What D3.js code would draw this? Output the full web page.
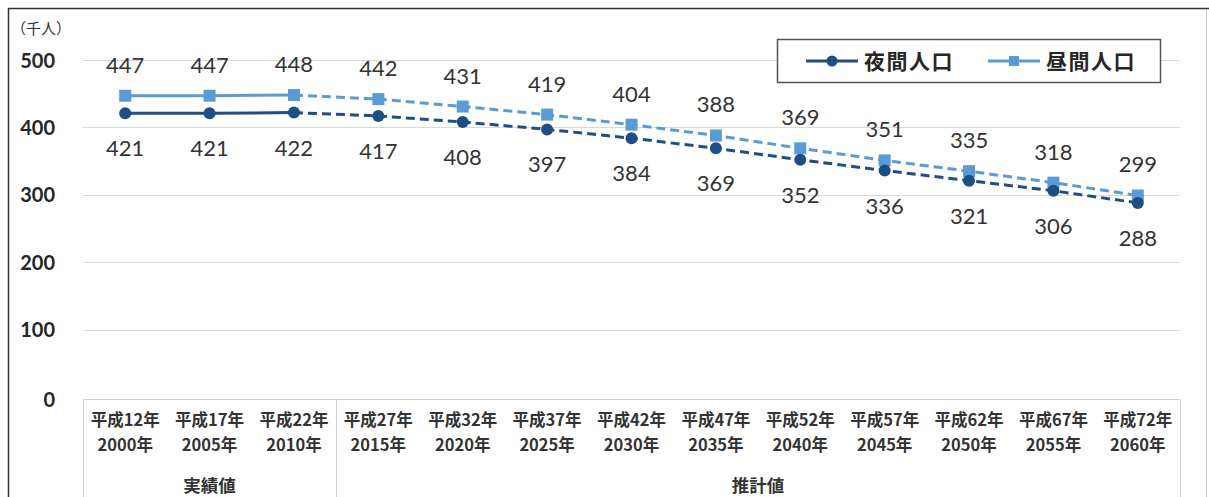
<!DOCTYPE html>
<html><head><meta charset="utf-8">
<script src="https://cdn.jsdelivr.net/npm/d3@7/dist/d3.min.js"></script>
<style>body{margin:0;background:#fff}svg{display:block}</style>
</head><body>
<svg id="c" width="1209" height="497"></svg>
<script>
const categoriesWareki = ["平成12年","平成17年","平成22年","平成27年","平成32年","平成37年","平成42年","平成47年","平成52年","平成57年","平成62年","平成67年","平成72年"];
const categoriesYear = ["2000年","2005年","2010年","2015年","2020年","2025年","2030年","2035年","2040年","2045年","2050年","2055年","2060年"];
const nightPop = [421,421,422,417,408,397,384,369,352,336,321,306,288];
const dayPop = [447,447,448,442,431,419,404,388,369,351,335,318,299];
const yTicks = [0,100,200,300,400,500];
const groups = [{label:"実績値", from:0, to:3},{label:"推計値", from:3, to:13}];
const seriesNames = ["夜間人口","昼間人口"];
const actualCount = 3;

const svg = d3.select("#c");
const pLeft = 83, pRight = 1180, pTop = 60, pBottom = 397;
const jp = "'Noto Sans CJK JP', sans-serif";
const num = "Lato, 'Open Sans', sans-serif";
const cNight = "#1f4e85", cDay = "#5b9bd5";

// outer border
svg.append("line").attr("x1",8.5).attr("x2",8.5).attr("y1",8).attr("y2",497).attr("stroke","#333").attr("stroke-width",1.5);
svg.append("line").attr("x1",8).attr("x2",1209).attr("y1",8.5).attr("y2",8.5).attr("stroke","#333").attr("stroke-width",1.5);
svg.append("line").attr("x1",1206.5).attr("x2",1206.5).attr("y1",9).attr("y2",497).attr("stroke","#ccc").attr("stroke-width",1);

const x = d3.scaleBand().domain(d3.range(categoriesWareki.length)).range([pLeft,pRight]);
const y = d3.scaleLinear().domain([0,500]).range([pBottom,pTop]);
const cx = i => x(i) + x.bandwidth()/2;

// gridlines
svg.append("g").selectAll("line").data(yTicks.filter(d=>d>0)).join("line")
  .attr("x1",pLeft).attr("x2",pRight).attr("y1",d=>Math.round(y(d))+0.5).attr("y2",d=>Math.round(y(d))+0.5)
  .attr("stroke","#d9d9d9").attr("stroke-width",1);

// y axis labels
const yAxis = svg.append("g").attr("transform",`translate(${pLeft-28},0)`)
  .call(d3.axisLeft(y).tickValues(yTicks).tickSize(0).tickPadding(0));
yAxis.select(".domain").remove();
yAxis.selectAll("text").attr("font-family",num).attr("font-size",20).attr("font-weight","bold").attr("fill","#262626")
  .attr("dy","0.35em").attr("y",d=>d===0?2:0);

svg.append("text").attr("x",11).attr("y",34).text("（千人）").attr("font-family",jp).attr("font-size",15).attr("fill","#333");

// category box
const boxTop = 399.5;
const boxG = svg.append("g");
boxG.append("line").attr("x1",pLeft).attr("x2",pRight).attr("y1",boxTop).attr("y2",boxTop).attr("stroke","#d0d0d0");
[0,actualCount,categoriesWareki.length].forEach(i=>{
  const xx = i<categoriesWareki.length ? x(i) : pRight;
  boxG.append("line").attr("x1",Math.round(xx)+0.5).attr("x2",Math.round(xx)+0.5).attr("y1",boxTop).attr("y2",497).attr("stroke","#d0d0d0");
});
const catG = svg.append("g").attr("font-family",jp).attr("font-size",16.5).attr("font-weight","bold").attr("fill","#333").attr("text-anchor","middle");
categoriesWareki.forEach((c,i)=>{
  catG.append("text").attr("x",cx(i)).attr("y",426).text(c);
  catG.append("text").attr("x",cx(i)).attr("y",451).text(categoriesYear[i]);
});
groups.forEach(g=>{
  const gx = (x(g.from) + (g.to<categoriesWareki.length? x(g.to): pRight))/2;
  catG.append("text").attr("x",gx).attr("y",492).attr("font-size",17.5).text(g.label);
});

// lines
const line = d3.line().x(d=>cx(d.i)).y(d=>y(d.v));
function drawSeries(vals,color){
  const pts = vals.map((v,i)=>({i,v}));
  svg.append("path").attr("d",line(pts.slice(0,actualCount))).attr("fill","none").attr("stroke",color).attr("stroke-width",3);
  svg.append("path").attr("d",line(pts.slice(actualCount-1))).attr("fill","none").attr("stroke",color).attr("stroke-width",3).attr("stroke-dasharray","9,5");
  return pts;
}
const dayPts = drawSeries(dayPop,cDay);
const nightPts = drawSeries(nightPop,cNight);
svg.append("g").selectAll("rect").data(dayPts).join("rect")
  .attr("x",d=>cx(d.i)-6).attr("y",d=>y(d.v)-6).attr("width",12).attr("height",12).attr("fill",cDay);
svg.append("g").selectAll("circle").data(nightPts).join("circle")
  .attr("cx",d=>cx(d.i)).attr("cy",d=>y(d.v)).attr("r",6).attr("fill",cNight);

// data labels
const lblG = svg.append("g").attr("font-family",num).attr("font-size",22).attr("fill","#333").attr("text-anchor","middle");
dayPts.forEach(d=>lblG.append("text").attr("x",cx(d.i)).attr("y",y(d.v)-23).text(d.v));
nightPts.forEach(d=>lblG.append("text").attr("x",cx(d.i)).attr("y",y(d.v)+43).text(d.v));

// legend
const lg = svg.append("g");
lg.append("rect").attr("x",777.5).attr("y",39.5).attr("width",383).attr("height",43).attr("fill","#fff").attr("stroke","#555").attr("stroke-width",1.5);
const items = [{name:seriesNames[0],color:cNight,x0:806,shape:"circle"},{name:seriesNames[1],color:cDay,x0:988,shape:"rect"}];
items.forEach(it=>{
  lg.append("line").attr("x1",it.x0).attr("x2",it.x0+52).attr("y1",61).attr("y2",61).attr("stroke",it.color).attr("stroke-width",3);
  if(it.shape==="circle") lg.append("circle").attr("cx",it.x0+26).attr("cy",61).attr("r",5.5).attr("fill",it.color);
  else lg.append("rect").attr("x",it.x0+21).attr("y",56).attr("width",10).attr("height",10).attr("fill",it.color);
  lg.append("text").attr("x",it.x0+58).attr("y",61).attr("dy","0.36em").text(it.name)
    .attr("font-family",jp).attr("font-size",21).attr("font-weight","bold").attr("fill","#262626").attr("letter-spacing",1.5);
});
</script>
</body></html>
